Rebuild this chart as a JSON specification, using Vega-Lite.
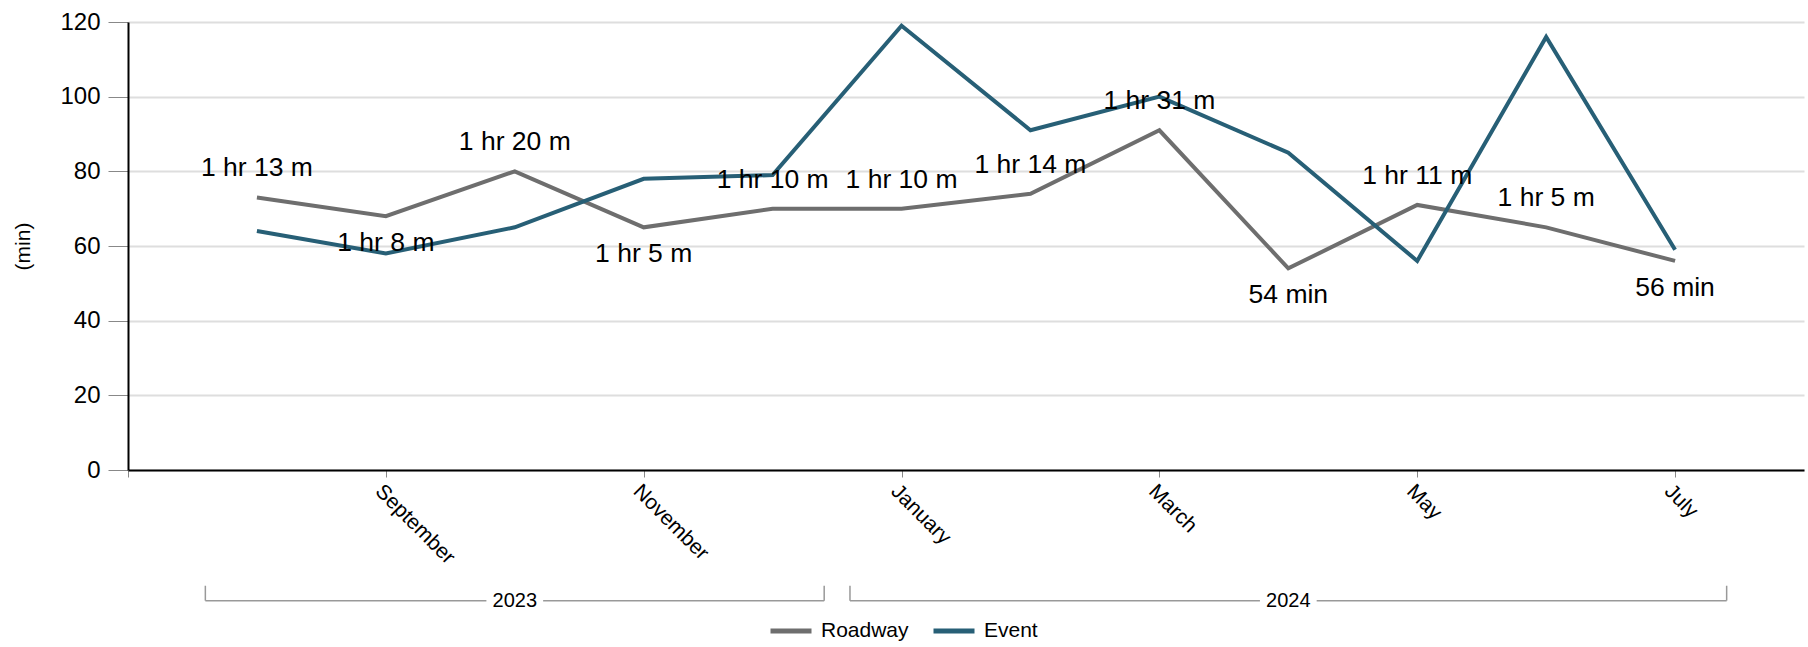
{
  "$schema": "https://vega.github.io/schema/vega-lite/v6.json",
  "width": 1676,
  "height": 448,
  "autosize": {"type": "none"},
  "padding": {"left": 128, "top": 22, "right": 4, "bottom": 177},
  "background": "white",
  "config": {"view": {"stroke": null}, "font": "Liberation Sans"},
  "datasets": {
    "series": [
      {"i": 1, "month": "August", "series": "Roadway", "min": 73, "label": "1 hr 13 m"},
      {"i": 2, "month": "September", "series": "Roadway", "min": 68, "label": "1 hr 8 m"},
      {"i": 3, "month": "October", "series": "Roadway", "min": 80, "label": "1 hr 20 m"},
      {"i": 4, "month": "November", "series": "Roadway", "min": 65, "label": "1 hr 5 m"},
      {"i": 5, "month": "December", "series": "Roadway", "min": 70, "label": "1 hr 10 m"},
      {"i": 6, "month": "January", "series": "Roadway", "min": 70, "label": "1 hr 10 m"},
      {"i": 7, "month": "February", "series": "Roadway", "min": 74, "label": "1 hr 14 m"},
      {"i": 8, "month": "March", "series": "Roadway", "min": 91, "label": "1 hr 31 m"},
      {"i": 9, "month": "April", "series": "Roadway", "min": 54, "label": "54 min"},
      {"i": 10, "month": "May", "series": "Roadway", "min": 71, "label": "1 hr 11 m"},
      {"i": 11, "month": "June", "series": "Roadway", "min": 65, "label": "1 hr 5 m"},
      {"i": 12, "month": "July", "series": "Roadway", "min": 56, "label": "56 min"},
      {"i": 1, "month": "August", "series": "Event", "min": 64, "label": ""},
      {"i": 2, "month": "September", "series": "Event", "min": 58, "label": ""},
      {"i": 3, "month": "October", "series": "Event", "min": 65, "label": ""},
      {"i": 4, "month": "November", "series": "Event", "min": 78, "label": ""},
      {"i": 5, "month": "December", "series": "Event", "min": 79, "label": ""},
      {"i": 6, "month": "January", "series": "Event", "min": 119, "label": ""},
      {"i": 7, "month": "February", "series": "Event", "min": 91, "label": ""},
      {"i": 8, "month": "March", "series": "Event", "min": 100, "label": ""},
      {"i": 9, "month": "April", "series": "Event", "min": 85, "label": ""},
      {"i": 10, "month": "May", "series": "Event", "min": 56, "label": ""},
      {"i": 11, "month": "June", "series": "Event", "min": 116, "label": ""},
      {"i": 12, "month": "July", "series": "Event", "min": 59, "label": ""}
    ],
    "years": [
      {"year": "2023", "first": 1, "last": 5},
      {"year": "2024", "first": 6, "last": 12}
    ]
  },
  "layer": [
    {
      "data": {"name": "series"},
      "mark": {"type": "line", "strokeWidth": 4, "clip": false},
      "encoding": {
        "x": {
          "field": "i", "type": "quantitative",
          "scale": {"domain": [0, 13], "nice": false, "zero": false},
          "axis": {
            "title": null,
            "values": [0, 2, 4, 6, 8, 10, 12],
            "labelExpr": "['','August','September','October','November','December','January','February','March','April','May','June','July'][datum.value]",
            "labelAngle": 45,
            "labelFontSize": 21,
            "labelColor": "#000000",
            "labelPadding": 3,
            "tickColor": "#888888",
            "tickSize": 7,
            "tickWidth": 1,
            "domainColor": "#000000",
            "domainWidth": 2,
            "grid": false
          }
        },
        "y": {
          "field": "min", "type": "quantitative",
          "scale": {"domain": [0, 120], "nice": false},
          "axis": {
            "title": "(min)",
            "titleFontSize": 21,
            "titleFontWeight": "normal",
            "titleColor": "#000000",
            "titlePadding": 26,
            "values": [0, 20, 40, 60, 80, 100, 120],
            "labelFontSize": 24,
            "labelColor": "#000000",
            "labelPadding": 8,
            "tickSize": 20,
            "tickColor": "#888888",
            "tickWidth": 1,
            "domainColor": "#000000",
            "domainWidth": 2,
            "grid": true,
            "gridColor": "#dedede",
            "gridWidth": 2
          }
        },
        "color": {
          "field": "series", "type": "nominal",
          "scale": {"domain": ["Roadway", "Event"], "range": ["#6e6e6e", "#275f76"]},
          "legend": {
            "orient": "none",
            "legendX": 640,
            "legendY": 586,
            "direction": "horizontal",
            "title": null,
            "symbolType": "stroke",
            "symbolSize": 1681,
            "symbolStrokeWidth": 5,
            "labelFontSize": 21,
            "labelColor": "#000000",
            "labelOffset": 7,
            "columnPadding": 14
          }
        }
      }
    },
    {
      "data": {"name": "series"},
      "transform": [{"filter": "datum.series === 'Roadway' && indexof([2, 4, 9, 12], datum.i) < 0"}],
      "mark": {"type": "text", "fontSize": 26.5, "dy": -29, "color": "#000000", "baseline": "middle"},
      "encoding": {
        "x": {"field": "i", "type": "quantitative"},
        "y": {"field": "min", "type": "quantitative"},
        "text": {"field": "label"}
      }
    },
    {
      "data": {"name": "series"},
      "transform": [{"filter": "datum.series === 'Roadway' && indexof([2, 4, 9, 12], datum.i) >= 0"}],
      "mark": {"type": "text", "fontSize": 26.5, "dy": 27, "color": "#000000", "baseline": "middle"},
      "encoding": {
        "x": {"field": "i", "type": "quantitative"},
        "y": {"field": "min", "type": "quantitative"},
        "text": {"field": "label"}
      }
    },
    {
      "data": {"name": "years"},
      "transform": [
        {"calculate": "datum.first - 0.4", "as": "lo"},
        {"calculate": "(datum.first + datum.last) / 2 - 0.22", "as": "gapL"}
      ],
      "mark": {"type": "rule", "color": "#999999", "strokeWidth": 1.5, "clip": false},
      "encoding": {
        "x": {"field": "lo", "type": "quantitative"},
        "x2": {"field": "gapL"},
        "y": {"datum": -35, "type": "quantitative"}
      }
    },
    {
      "data": {"name": "years"},
      "transform": [
        {"calculate": "datum.last + 0.4", "as": "hi"},
        {"calculate": "(datum.first + datum.last) / 2 + 0.22", "as": "gapR"}
      ],
      "mark": {"type": "rule", "color": "#999999", "strokeWidth": 1.5, "clip": false},
      "encoding": {
        "x": {"field": "gapR", "type": "quantitative"},
        "x2": {"field": "hi"},
        "y": {"datum": -35, "type": "quantitative"}
      }
    },
    {
      "data": {"name": "years"},
      "transform": [{"calculate": "datum.first - 0.4", "as": "lo"}],
      "mark": {"type": "rule", "color": "#999999", "strokeWidth": 1.5, "clip": false},
      "encoding": {
        "x": {"field": "lo", "type": "quantitative"},
        "y": {"datum": -35, "type": "quantitative"},
        "y2": {"datum": -31}
      }
    },
    {
      "data": {"name": "years"},
      "transform": [{"calculate": "datum.last + 0.4", "as": "hi"}],
      "mark": {"type": "rule", "color": "#999999", "strokeWidth": 1.5, "clip": false},
      "encoding": {
        "x": {"field": "hi", "type": "quantitative"},
        "y": {"datum": -35, "type": "quantitative"},
        "y2": {"datum": -31}
      }
    },
    {
      "data": {"name": "years"},
      "transform": [{"calculate": "(datum.first + datum.last) / 2", "as": "mid"}],
      "mark": {"type": "text", "fontSize": 20, "color": "#000000", "baseline": "middle", "align": "center", "clip": false},
      "encoding": {
        "x": {"field": "mid", "type": "quantitative"},
        "y": {"datum": -35, "type": "quantitative"},
        "text": {"field": "year"}
      }
    }
  ]
}
